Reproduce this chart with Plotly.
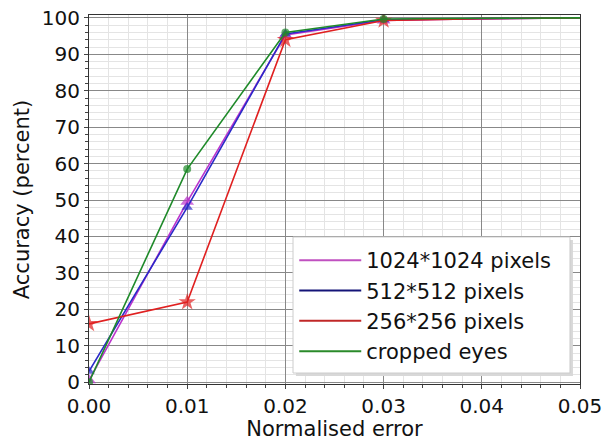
import plotly.graph_objects as go

x_vals = [0.0, 0.01, 0.02, 0.03, 0.04, 0.05]
acc_1024 = [0.5, 49.5, 95.3, 99.3, 99.8, 100.0]
acc_512 = [3.0, 48.0, 95.6, 99.5, 99.8, 100.0]
acc_256 = [16.0, 22.0, 94.0, 99.3, 99.8, 100.0]
acc_eyes = [0.0, 58.5, 96.0, 99.7, 99.9, 100.0]
names = ["1024*1024 pixels", "512*512 pixels", "256*256 pixels", "cropped eyes"]

series = [
    (acc_1024, names[0], "#bb33cc", "triangle-up", 12),
    (acc_512, names[1], "#2a2ac8", "triangle-up", 10),
    (acc_256, names[2], "#e02020", "star", 13),
    (acc_eyes, names[3], "#1f8a2a", "circle", 8),
]
legend_cols = ["#c050c0", "#141478", "#c02828", "#2a8a2a"]

fig = go.Figure()
for (ys, nm, col, sym, sz), lc in zip(series, legend_cols):
    sizes = [sz, sz, sz, sz, 0, 0]
    fig.add_trace(go.Scatter(
        x=x_vals, y=ys, mode="lines+markers", name=nm,
        line=dict(color=col, width=1.6),
        marker=dict(symbol=sym, size=sizes, color=col, line=dict(width=0)),
        showlegend=False, cliponaxis=True,
    ))
    fig.add_trace(go.Scatter(
        x=[None], y=[None], mode="lines", name=nm,
        line=dict(color=lc, width=2), showlegend=True,
    ))

# legend frame (drawn as shapes behind the legend text)
fig.add_shape(type="rect", xref="paper", yref="paper",
              x0=0.4215, x1=0.9856, y0=0.022, y1=0.3904,
              fillcolor="#d8d8d8", line=dict(width=0), layer="above")
fig.add_shape(type="rect", xref="paper", yref="paper",
              x0=0.4155, x1=0.9796, y0=0.0298, y1=0.3984,
              fillcolor="white", line=dict(color="#cccccc", width=1), layer="above")

font_fam = "DejaVu Sans, sans-serif"
fig.update_layout(
    width=606, height=441,
    margin=dict(l=89, r=26, t=15, b=57, autoexpand=False),
    paper_bgcolor="white", plot_bgcolor="white",
    font=dict(family=font_fam, color="#111111"),
    legend=dict(
        x=0.418, y=0.39, xanchor="left", yanchor="top",
        bgcolor="rgba(0,0,0,0)", borderwidth=0,
        font=dict(size=21, family=font_fam, color="#111111"),
        itemwidth=62, tracegroupgap=0,
    ),
    showlegend=True,
)
fig.update_xaxes(
    range=[0, 0.05], tickvals=[0, 0.01, 0.02, 0.03, 0.04, 0.05],
    ticktext=["0.00", "0.01", "0.02", "0.03", "0.04", "0.05"],
    tickfont=dict(size=20), title=dict(text="Normalised error", font=dict(size=21), standoff=2),
    automargin=False, ticklabeloverflow="allow",
    showgrid=True, gridcolor="#888888", gridwidth=1.2,
    minor=dict(dtick=0.002, showgrid=True, gridcolor="#e4e4e4", gridwidth=1,
               ticks="outside", ticklen=3, tickcolor="#444444"),
    ticks="outside", ticklen=4, tickcolor="#444444",
    showline=True, linecolor="#333333", linewidth=1.2, mirror=True, zeroline=False,
)
fig.update_yaxes(
    range=[-0.5, 100.8], tickvals=list(range(0, 101, 10)),
    tickfont=dict(size=20), title=dict(text="Accuracy (percent)", font=dict(size=21), standoff=6),
    automargin=False, ticklabeloverflow="allow",
    showgrid=True, gridcolor="#888888", gridwidth=1.2,
    minor=dict(dtick=2, showgrid=True, gridcolor="#e4e4e4", gridwidth=1,
               ticks="outside", ticklen=3, tickcolor="#444444"),
    ticks="outside", ticklen=4, tickcolor="#444444",
    showline=True, linecolor="#333333", linewidth=1.2, mirror=True, zeroline=False,
)
fig.write_html("out.html", config={"displayModeBar": False},
               post_script="document.body.style.margin='0';")
